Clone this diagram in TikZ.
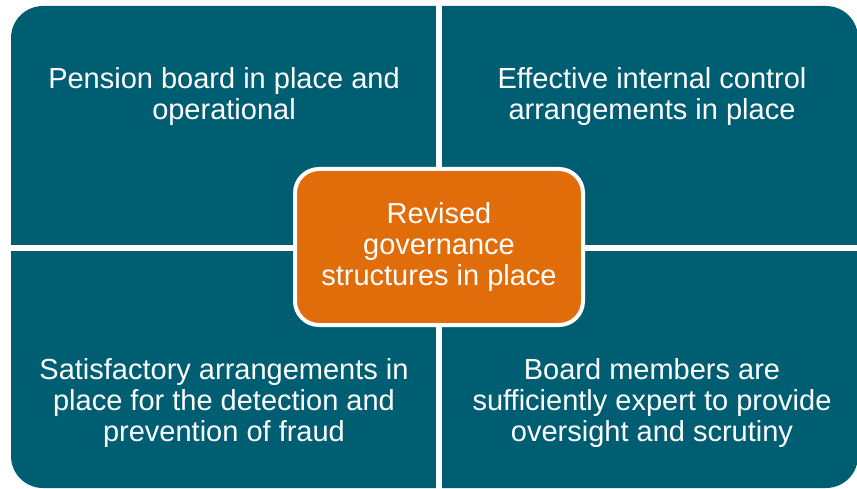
\documentclass[tikz,border=0pt]{standalone}
\usepackage{fontspec}
\setmainfont{Liberation Sans}
\usetikzlibrary{positioning}
\definecolor{tealbg}{RGB}{0,94,115}
\definecolor{orangebox}{RGB}{224,108,10}

\begin{document}
\begin{tikzpicture}[x=1pt,y=-1pt,
	qtext/.style={text=white, align=center, font=\fontsize{29}{31}\selectfont},
	cstyle/.style={rectangle, rounded corners=24pt, fill=orangebox, draw=white, line width=4pt,
	minimum width=288pt, minimum height=156pt, text=white, align=center,
	font=\fontsize{29}{31}\selectfont}
	]
	\useasboundingbox (0,0) rectangle (857,489);
	\fill[tealbg, rounded corners=32pt] (11,6) rectangle (858,488);
	\draw[white, line width=6pt] (439,0) -- (439,489);
	\draw[white, line width=6pt] (0,248) -- (857,248);
	
	\node[qtext] (tl) at (224,97) {Pension board in place and\\operational};
	\node[qtext] (tr) at (652,97) {Effective internal control\\arrangements in place};
	\node[qtext] (bl) at (224,403) {Satisfactory arrangements in\\place for the detection and\\prevention of fraud};
	\node[qtext] (br) at (652,403) {Board members are\\sufficiently expert to provide\\oversight and scrutiny};
	
	\node[cstyle] (c) at (439,247) {Revised\\governance\\structures in place};
\end{tikzpicture}
\end{document}
